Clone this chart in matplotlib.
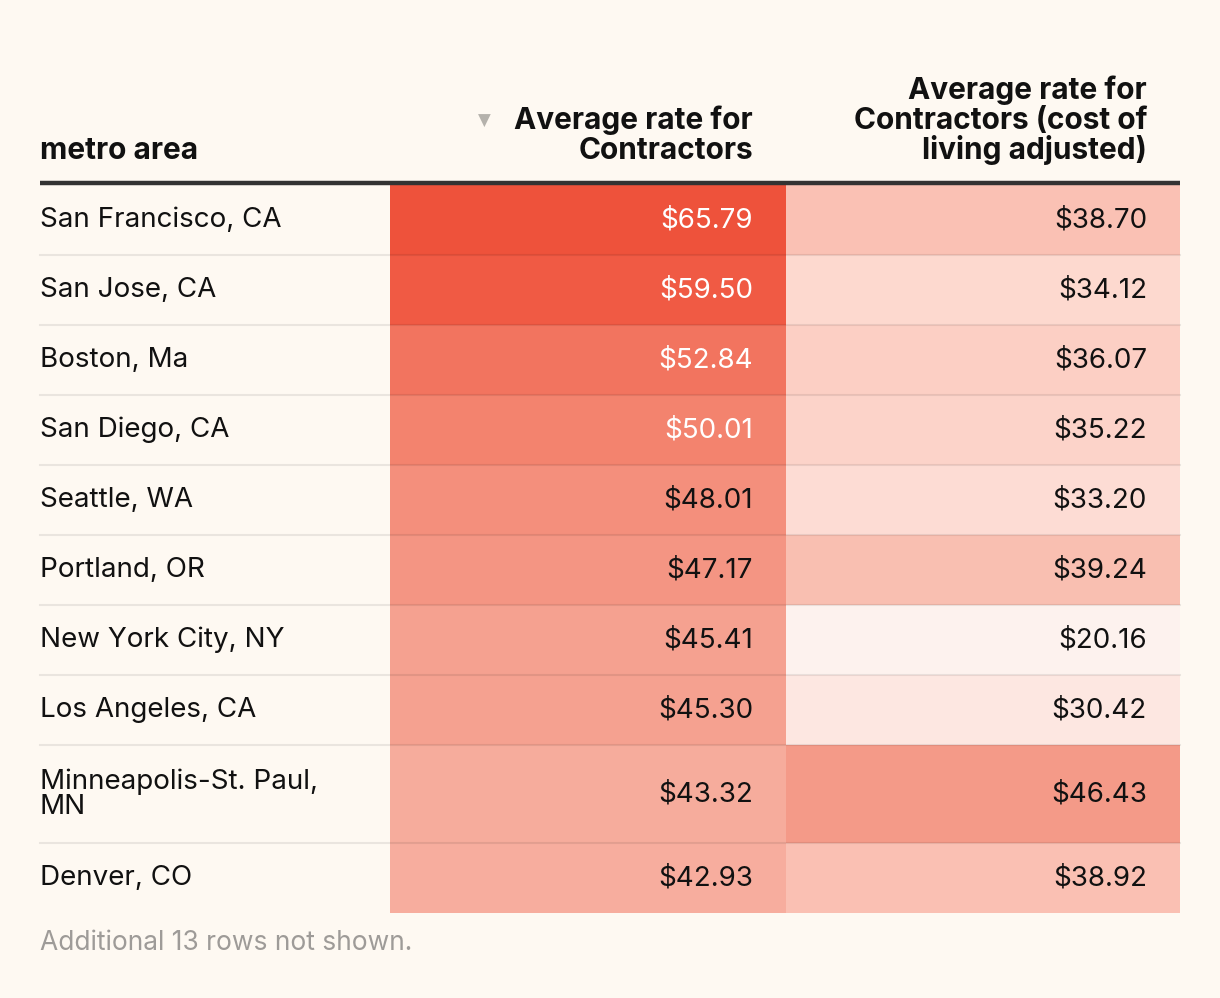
import numpy as np
import matplotlib.pyplot as plt
from matplotlib.colors import LinearSegmentedColormap
from matplotlib.patches import Rectangle

metros = ["San Francisco, CA", "San Jose, CA", "Boston, Ma", "San Diego, CA",
          "Seattle, WA", "Portland, OR", "New York City, NY", "Los Angeles, CA",
          "Minneapolis-St. Paul,\nMN", "Denver, CO"]
rate = [65.79, 59.50, 52.84, 50.01, 48.01, 47.17, 45.41, 45.30, 43.32, 42.93]
rate_adj = [38.70, 34.12, 36.07, 35.22, 33.20, 39.24, 20.16, 30.42, 46.43, 38.92]

headers = ["metro area", "Average rate for\nContractors",
           "Average rate for\nContractors (cost of\nliving adjusted)"]
footer = "Additional 13 rows not shown."

bg = "#FEF9F2"
font = "Inter"

# shared colour scale for both value columns
lo, hi = min(rate + rate_adj), max(rate + rate_adj)
cmap = LinearSegmentedColormap.from_list("heat", [
    (0.00, "#FDF2EE"), (0.22, "#FDE8E2"), (0.30, "#FDDAD1"),
    (0.40, "#FAC3B6"), (0.55, "#F5A291"), (0.65, "#F3846F"),
    (0.82, "#F15D47"), (1.00, "#EE523B")])

def cell_color(v):
    return cmap((v - lo) / (hi - lo))

fig = plt.figure(figsize=(12.2, 9.98), dpi=100, facecolor=bg)
ax = fig.add_axes([0, 0, 1, 1])
ax.set_xlim(0, 1220)
ax.set_ylim(998, 0)
ax.axis("off")

x0, x1, x2, x3 = 40, 390, 786, 1180
pad = 33

# header, one line at a time from the bottom baseline up
for hx, ha, label in [(x0, "left", headers[0]), (x2 - pad, "right", headers[1]),
                      (x3 - pad, "right", headers[2])]:
    lines = label.split("\n")
    for i, line in enumerate(lines):
        ax.text(hx, 159 - 30 * (len(lines) - 1 - i), line, fontsize=21.5,
                fontweight="bold", family=font, ha=ha, va="baseline",
                color="#111111")
ax.text(484, 121, "\u25BC", fontsize=12, family="DejaVu Sans", ha="center",
        va="center", color="#B5B2AC")
ax.plot([x0, x3], [183, 183], color="#333333", lw=3.2, solid_capstyle="butt")

# rows
y = 185
for name, a, b in zip(metros, rate, rate_adj):
    h = 70 if "\n" not in name else 98
    for xa, xb, v in [(x1, x2, a), (x2, x3, b)]:
        ax.add_patch(Rectangle((xa, y), xb - xa, h, color=cell_color(v), lw=0))
        ax.text(xb - pad, y + h / 2, f"${v:.2f}", fontsize=20, family=font,
                ha="right", va="center",
                color="white" if v >= 50 else "#111111")
    ax.text(x0, y + h / 2, name, fontsize=20, family=font, ha="left",
            va="center", color="#111111", linespacing=0.95)
    y += h
    if name != metros[-1]:
        ax.plot([x0, x3], [y, y], color="black", alpha=0.08, lw=1.5)

ax.text(x0, 943, footer, fontsize=19, family=font, ha="left", va="center",
        color="#9E9B98")

fig.savefig("out.png", dpi=100, facecolor=bg)
